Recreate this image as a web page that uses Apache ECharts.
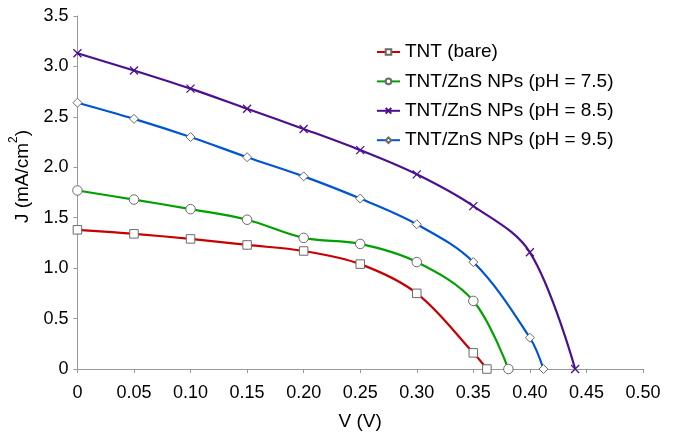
<!DOCTYPE html>
<html>
<head>
<meta charset="utf-8">
<script src="https://cdn.jsdelivr.net/npm/echarts@6/dist/echarts.min.js"></script>
<style>html,body{margin:0;padding:0;background:#fff}#c{width:675px;height:436px}</style>
</head>
<body>
<div id="c"></div>
<script>
var seriesNames = ['TNT (bare)', 'TNT/ZnS NPs (pH = 7.5)', 'TNT/ZnS NPs (pH = 8.5)', 'TNT/ZnS NPs (pH = 9.5)'];
var xBare = [0, 0.05, 0.10, 0.15, 0.20, 0.25, 0.30, 0.35, 0.362];
var yBare = [1.38, 1.34, 1.29, 1.23, 1.17, 1.04, 0.75, 0.16, 0];
var xPH75 = [0, 0.05, 0.10, 0.15, 0.20, 0.25, 0.30, 0.35, 0.381];
var yPH75 = [1.77, 1.68, 1.585, 1.48, 1.30, 1.24, 1.06, 0.675, 0];
var xPH85 = [0, 0.05, 0.10, 0.15, 0.20, 0.25, 0.30, 0.35, 0.40, 0.44];
var yPH85 = [3.13, 2.96, 2.78, 2.58, 2.38, 2.17, 1.93, 1.615, 1.157, 0];
var xPH95 = [0, 0.05, 0.10, 0.15, 0.20, 0.25, 0.30, 0.35, 0.40, 0.412];
var yPH95 = [2.64, 2.48, 2.30, 2.10, 1.91, 1.69, 1.435, 1.06, 0.31, 0];

function pairs(xs, ys) { return xs.map(function (x, i) { return [x, ys[i]]; }); }

var font = 'Liberation Sans, Arial, Helvetica, sans-serif';
var markerStyle = { color: '#ffffff', borderColor: '#6a6a6a', borderWidth: 1 };
function mk(name, data, color, symbol, size, itemStyle) {
  return {
    name: name, type: 'line', data: data, smooth: 0.35,
    symbol: symbol, symbolSize: size, showAllSymbol: true,
    lineStyle: { color: color, width: 2.2 },
    itemStyle: itemStyle,
    emphasis: { disabled: true }, z: 2
  };
}

var chart = echarts.init(document.getElementById('c'), null, { renderer: 'canvas' });
chart.setOption({
  animation: false,
  backgroundColor: '#ffffff',
  grid: { left: 73, right: 32, top: 16, bottom: 64, containLabel: false },
  legend: {
    orient: 'vertical', left: 371, top: 37, itemWidth: 23, itemHeight: 7, itemGap: 9.4,
    textStyle: { fontFamily: font, fontSize: 19, color: '#000', lineHeight: 20 },
    data: seriesNames
  },
  xAxis: {
    type: 'value', min: 0, max: 0.5, interval: 0.05,
    name: 'V (V)', nameLocation: 'middle', nameGap: 43,
    nameTextStyle: { fontFamily: font, fontSize: 19, color: '#000' },
    axisLine: { lineStyle: { color: '#999', width: 1 } },
    axisTick: { show: true, length: 4, lineStyle: { color: '#999' } },
    axisLabel: { fontFamily: font, fontSize: 18, color: '#000', margin: 15,
      formatter: function (v) { return v === 0 ? '0' : v.toFixed(2); } },
    splitLine: { show: false }
  },
  yAxis: {
    type: 'value', min: 0, max: 3.5, interval: 0.5,
    name: 'J (mA/cm{sup|2})', nameLocation: 'middle', nameGap: 36,
    nameTextStyle: { fontFamily: font, fontSize: 19, color: '#000', padding: [0, 0, 0, 32],
      rich: { sup: { fontFamily: font, fontSize: 12, verticalAlign: 'top', lineHeight: 30, color: '#000' } } },
    axisLine: { show: true, lineStyle: { color: '#999', width: 1 } },
    axisTick: { show: true, length: 4, lineStyle: { color: '#999' } },
    axisLabel: { fontFamily: font, fontSize: 18, color: '#000', margin: 9, padding: [5, 0, 0, 0],
      formatter: function (v) { return v === 0 ? '0' : v.toFixed(1); } },
    splitLine: { show: false }
  },
  series: [
    mk(seriesNames[0], pairs(xBare, yBare), '#c80000', 'rect', 8.5, markerStyle),
    mk(seriesNames[1], pairs(xPH75, yPH75), '#00a000', 'circle', 9.5, markerStyle),
    mk(seriesNames[2], pairs(xPH85, yPH85), '#4b1090', 'path://M0,0L10,10M10,0L0,10', 8,
       { color: '#4b1090', borderColor: '#4b1090', borderWidth: 1.3 }),
    mk(seriesNames[3], pairs(xPH95, yPH95), '#0055d0', 'diamond', 9, markerStyle)
  ]
});
</script>
</body>
</html>
